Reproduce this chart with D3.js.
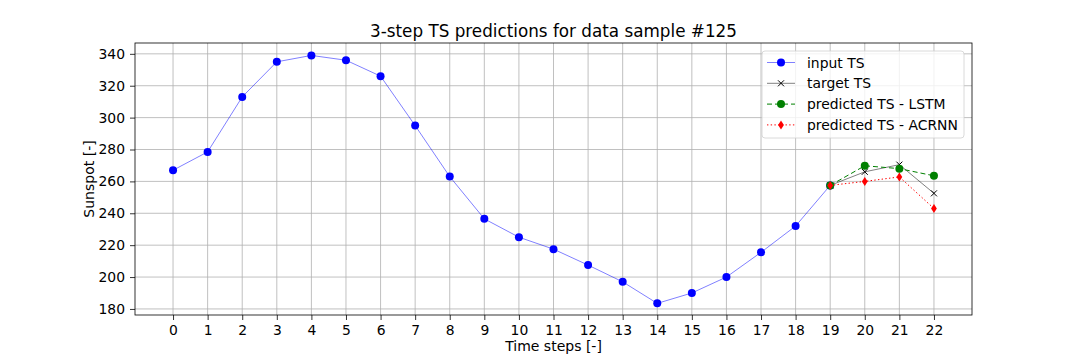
<!DOCTYPE html>
<html>
<head>
<meta charset="utf-8">
<script src="https://cdn.jsdelivr.net/npm/d3@7"></script>
<style>
  body { margin: 0; background: #fff; }
  svg { font-family: "DejaVu Sans", sans-serif; }
</style>
</head>
<body>
<div id="chart"></div>
<script>
// DATA
const inputSteps = d3.range(0, 20);
const inputValues = [267, 278.5, 313, 335, 339, 336, 326, 295, 263, 236.5, 225, 217.5, 207.5, 197, 183.5, 190, 200, 215.5, 232, 257.5];
const predSteps = [19, 20, 21, 22];
const targetValues = [257.5, 266, 270.5, 252.5];
const lstmValues = [257.5, 269.8, 268, 263.5];
const acrnnValues = [257.5, 260, 262.8, 243];
const xTicks = d3.range(0, 23);
const yTicks = [180, 200, 220, 240, 260, 280, 300, 320, 340];

const WIDTH = 1080, HEIGHT = 360;
const MARGIN = { LEFT: 135, RIGHT: 108, TOP: 43, BOTTOM: 45 };
const W = WIDTH - MARGIN.LEFT - MARGIN.RIGHT;
const H = HEIGHT - MARGIN.TOP - MARGIN.BOTTOM;

const svg = d3.select("#chart")
  .append("svg")
  .attr("width", WIDTH)
  .attr("height", HEIGHT);

const g = svg.append("g")
  .attr("transform", `translate(${MARGIN.LEFT}, ${MARGIN.TOP})`);

const x = d3.scaleLinear().domain([-1.1, 23.1]).range([0, W]);
const y = d3.scaleLinear().domain([176.2, 346.8]).range([H, 0]);

// GRID
g.append("g")
  .selectAll("line")
  .data(xTicks)
  .enter()
  .append("line")
  .attr("x1", (d) => x(d)).attr("x2", (d) => x(d))
  .attr("y1", 0).attr("y2", H)
  .attr("stroke", "#b0b0b0").attr("stroke-width", 0.8);
g.append("g")
  .selectAll("line")
  .data(yTicks)
  .enter()
  .append("line")
  .attr("y1", (d) => y(d)).attr("y2", (d) => y(d))
  .attr("x1", 0).attr("x2", W)
  .attr("stroke", "#b0b0b0").attr("stroke-width", 0.8);

// AXIS
const xAxis = g.append("g")
  .attr("transform", `translate(0, ${H})`)
  .call(d3.axisBottom(x).tickValues(xTicks).tickSize(5).tickPadding(5).tickFormat(d3.format("d")));
const yAxis = g.append("g")
  .call(d3.axisLeft(y).tickValues(yTicks).tickSize(5).tickPadding(5));
[xAxis, yAxis].forEach((a) => {
  a.select(".domain").remove();
  a.selectAll(".tick line").attr("stroke", "#000").attr("stroke-width", 0.8);
  a.selectAll(".tick text").attr("font-size", "13.9px").attr("fill", "#000")
    .attr("font-family", "DejaVu Sans");
});

g.append("rect")
  .attr("width", W).attr("height", H)
  .attr("fill", "none").attr("stroke", "#000").attr("stroke-width", 0.8);

// LABELS
svg.append("text")
  .attr("x", MARGIN.LEFT + W / 2).attr("y", 37)
  .attr("text-anchor", "middle").attr("font-size", "16.8px")
  .text("3-step TS predictions for data sample #125");
svg.append("text")
  .attr("x", MARGIN.LEFT + W / 2).attr("y", 351)
  .attr("text-anchor", "middle").attr("font-size", "14px")
  .text("Time steps [-]");
svg.append("text")
  .attr("transform", `translate(94, ${MARGIN.TOP + H / 2}) rotate(-90)`)
  .attr("text-anchor", "middle").attr("font-size", "14px")
  .text("Sunspot [-]");

// SERIES
const series = [
  { name: "input TS", xs: inputSteps, ys: inputValues, color: "blue", width: 0.5, dash: null, marker: "o" },
  { name: "target TS", xs: predSteps, ys: targetValues, color: "black", width: 0.5, dash: null, marker: "x" },
  { name: "predicted TS - LSTM", xs: predSteps, ys: lstmValues, color: "green", width: 1, dash: "5,3", marker: "o" },
  { name: "predicted TS - ACRNN", xs: predSteps, ys: acrnnValues, color: "red", width: 1, dash: "1.4,2.3", marker: "d" }
];

function drawMarker(sel, s) {
  if (s.marker === "o") {
    sel.append("circle").attr("r", 4).attr("fill", s.color);
  } else if (s.marker === "x") {
    sel.append("path").attr("d", "M-3,-3L3,3M-3,3L3,-3")
      .attr("stroke", s.color).attr("stroke-width", 1).attr("fill", "none");
  } else if (s.marker === "d") {
    sel.append("path").attr("d", "M0,-4.5L2.9,0L0,4.5L-2.9,0Z").attr("fill", s.color);
  }
}

const line = d3.line();
series.forEach((s) => {
  const pts = s.xs.map((d, i) => [x(d), y(s.ys[i])]);
  g.append("path")
    .attr("d", line(pts))
    .attr("fill", "none")
    .attr("stroke", s.color)
    .attr("stroke-width", s.width)
    .attr("stroke-dasharray", s.dash);
  pts.forEach((p) => {
    const m = g.append("g").attr("transform", `translate(${p[0]}, ${p[1]})`);
    drawMarker(m, s);
  });
});

// LEGEND
const legend = g.append("g")
  .attr("transform", `translate(${W - 210}, 8)`);
legend.append("rect")
  .attr("width", 202).attr("height", 87).attr("rx", 3)
  .attr("fill", "#fff").attr("fill-opacity", 0.8)
  .attr("stroke", "#d0d0d0").attr("stroke-width", 0.8);
series.forEach((s, i) => {
  const ly = 11.5 + i * 20.8;
  const item = legend.append("g").attr("transform", `translate(0, ${ly})`);
  item.append("line")
    .attr("x1", 5).attr("x2", 33)
    .attr("stroke", s.color).attr("stroke-width", s.width)
    .attr("stroke-dasharray", s.dash);
  drawMarker(item.append("g").attr("transform", "translate(19, 0)"), s);
  item.append("text")
    .attr("x", 45).attr("y", 5)
    .attr("font-size", "13.9px")
    .text(s.name);
});
</script>
</body>
</html>
